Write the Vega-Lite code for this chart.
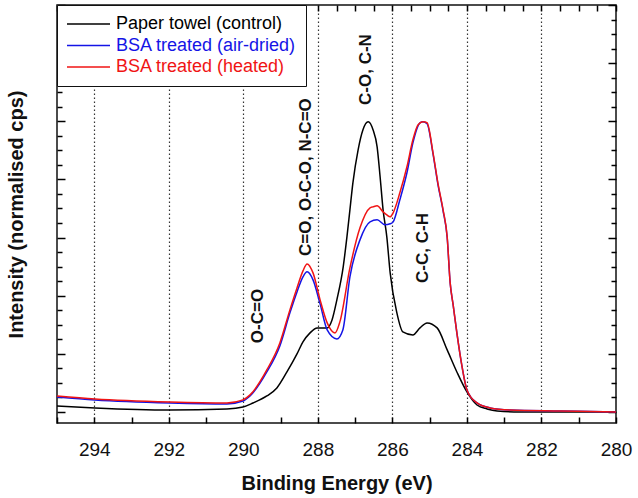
{
  "$schema": "https://vega.github.io/schema/vega-lite/v6.json",
  "width": 559,
  "height": 418,
  "autosize": "none",
  "padding": {"left": 57, "top": 5, "right": 22, "bottom": 75},
  "background": "white",
  "config": {
    "font": "Liberation Sans",
    "view": {"stroke": "#111", "strokeWidth": 1.5},
    "axis": {"domain": false, "tickColor": "#000", "tickWidth": 1.5, "grid": false, "zindex": 1, "ticks": true, "tickOpacity": 1}
  },
  "datasets": {
    "curves": [
      {"series": "Paper towel (control)", "energy": 295.00, "intensity": 0.103},
      {"series": "Paper towel (control)", "energy": 293.98, "intensity": 0.069},
      {"series": "Paper towel (control)", "energy": 291.97, "intensity": 0.034},
      {"series": "Paper towel (control)", "energy": 290.44, "intensity": 0.052},
      {"series": "Paper towel (control)", "energy": 290.01, "intensity": 0.086},
      {"series": "Paper towel (control)", "energy": 289.74, "intensity": 0.155},
      {"series": "Paper towel (control)", "energy": 289.37, "intensity": 0.275},
      {"series": "Paper towel (control)", "energy": 289.10, "intensity": 0.413},
      {"series": "Paper towel (control)", "energy": 288.83, "intensity": 0.688},
      {"series": "Paper towel (control)", "energy": 288.56, "intensity": 0.998},
      {"series": "Paper towel (control)", "energy": 288.40, "intensity": 1.205},
      {"series": "Paper towel (control)", "energy": 288.21, "intensity": 1.360},
      {"series": "Paper towel (control)", "energy": 288.02, "intensity": 1.446},
      {"series": "Paper towel (control)", "energy": 287.75, "intensity": 1.446},
      {"series": "Paper towel (control)", "energy": 287.62, "intensity": 1.583},
      {"series": "Paper towel (control)", "energy": 287.49, "intensity": 1.928},
      {"series": "Paper towel (control)", "energy": 287.32, "intensity": 2.496},
      {"series": "Paper towel (control)", "energy": 287.22, "intensity": 3.012},
      {"series": "Paper towel (control)", "energy": 287.14, "intensity": 3.477},
      {"series": "Paper towel (control)", "energy": 287.06, "intensity": 3.941},
      {"series": "Paper towel (control)", "energy": 286.92, "intensity": 4.509},
      {"series": "Paper towel (control)", "energy": 286.79, "intensity": 4.854},
      {"series": "Paper towel (control)", "energy": 286.65, "intensity": 4.991},
      {"series": "Paper towel (control)", "energy": 286.52, "intensity": 4.854},
      {"series": "Paper towel (control)", "energy": 286.41, "intensity": 4.561},
      {"series": "Paper towel (control)", "energy": 286.33, "intensity": 4.045},
      {"series": "Paper towel (control)", "energy": 286.25, "intensity": 3.477},
      {"series": "Paper towel (control)", "energy": 286.15, "intensity": 3.012},
      {"series": "Paper towel (control)", "energy": 286.06, "intensity": 2.392},
      {"series": "Paper towel (control)", "energy": 285.88, "intensity": 1.704},
      {"series": "Paper towel (control)", "energy": 285.72, "intensity": 1.377},
      {"series": "Paper towel (control)", "energy": 285.45, "intensity": 1.325},
      {"series": "Paper towel (control)", "energy": 285.26, "intensity": 1.446},
      {"series": "Paper towel (control)", "energy": 285.07, "intensity": 1.532},
      {"series": "Paper towel (control)", "energy": 284.80, "intensity": 1.446},
      {"series": "Paper towel (control)", "energy": 284.53, "intensity": 1.067},
      {"series": "Paper towel (control)", "energy": 284.27, "intensity": 0.688},
      {"series": "Paper towel (control)", "energy": 284.00, "intensity": 0.344},
      {"series": "Paper towel (control)", "energy": 283.73, "intensity": 0.120},
      {"series": "Paper towel (control)", "energy": 283.46, "intensity": 0.052},
      {"series": "Paper towel (control)", "energy": 283.19, "intensity": 0.017},
      {"series": "Paper towel (control)", "energy": 282.58, "intensity": 0.0},
      {"series": "Paper towel (control)", "energy": 281.50, "intensity": 0.0},
      {"series": "Paper towel (control)", "energy": 280.00, "intensity": 0.0},

      {"series": "BSA treated (air-dried)", "energy": 295.00, "intensity": 0.258},
      {"series": "BSA treated (air-dried)", "energy": 293.98, "intensity": 0.207},
      {"series": "BSA treated (air-dried)", "energy": 291.97, "intensity": 0.155},
      {"series": "BSA treated (air-dried)", "energy": 290.44, "intensity": 0.138},
      {"series": "BSA treated (air-dried)", "energy": 290.01, "intensity": 0.189},
      {"series": "BSA treated (air-dried)", "energy": 289.82, "intensity": 0.275},
      {"series": "BSA treated (air-dried)", "energy": 289.37, "intensity": 0.688},
      {"series": "BSA treated (air-dried)", "energy": 289.02, "intensity": 1.136},
      {"series": "BSA treated (air-dried)", "energy": 288.75, "intensity": 1.704},
      {"series": "BSA treated (air-dried)", "energy": 288.56, "intensity": 2.065},
      {"series": "BSA treated (air-dried)", "energy": 288.40, "intensity": 2.324},
      {"series": "BSA treated (air-dried)", "energy": 288.29, "intensity": 2.410},
      {"series": "BSA treated (air-dried)", "energy": 288.13, "intensity": 2.272},
      {"series": "BSA treated (air-dried)", "energy": 287.94, "intensity": 1.859},
      {"series": "BSA treated (air-dried)", "energy": 287.75, "intensity": 1.411},
      {"series": "BSA treated (air-dried)", "energy": 287.49, "intensity": 1.256},
      {"series": "BSA treated (air-dried)", "energy": 287.33, "intensity": 1.411},
      {"series": "BSA treated (air-dried)", "energy": 287.14, "intensity": 2.324},
      {"series": "BSA treated (air-dried)", "energy": 286.87, "intensity": 2.960},
      {"series": "BSA treated (air-dried)", "energy": 286.60, "intensity": 3.270},
      {"series": "BSA treated (air-dried)", "energy": 286.41, "intensity": 3.305},
      {"series": "BSA treated (air-dried)", "energy": 286.20, "intensity": 3.219},
      {"series": "BSA treated (air-dried)", "energy": 286.06, "intensity": 3.236},
      {"series": "BSA treated (air-dried)", "energy": 285.98, "intensity": 3.270},
      {"series": "BSA treated (air-dried)", "energy": 285.80, "intensity": 3.649},
      {"series": "BSA treated (air-dried)", "energy": 285.61, "intensity": 4.114},
      {"series": "BSA treated (air-dried)", "energy": 285.45, "intensity": 4.630},
      {"series": "BSA treated (air-dried)", "energy": 285.26, "intensity": 4.974},
      {"series": "BSA treated (air-dried)", "energy": 285.18, "intensity": 4.991},
      {"series": "BSA treated (air-dried)", "energy": 285.07, "intensity": 4.957},
      {"series": "BSA treated (air-dried)", "energy": 284.91, "intensity": 4.440},
      {"series": "BSA treated (air-dried)", "energy": 284.78, "intensity": 3.920},
      {"series": "BSA treated (air-dried)", "energy": 284.64, "intensity": 3.460},
      {"series": "BSA treated (air-dried)", "energy": 284.53, "intensity": 3.000},
      {"series": "BSA treated (air-dried)", "energy": 284.45, "intensity": 2.220},
      {"series": "BSA treated (air-dried)", "energy": 284.37, "intensity": 1.842},
      {"series": "BSA treated (air-dried)", "energy": 284.27, "intensity": 1.360},
      {"series": "BSA treated (air-dried)", "energy": 284.13, "intensity": 0.775},
      {"series": "BSA treated (air-dried)", "energy": 284.00, "intensity": 0.379},
      {"series": "BSA treated (air-dried)", "energy": 283.73, "intensity": 0.155},
      {"series": "BSA treated (air-dried)", "energy": 283.38, "intensity": 0.069},
      {"series": "BSA treated (air-dried)", "energy": 282.84, "intensity": 0.034},
      {"series": "BSA treated (air-dried)", "energy": 281.50, "intensity": 0.017},
      {"series": "BSA treated (air-dried)", "energy": 280.00, "intensity": 0.0},

      {"series": "BSA treated (heated)", "energy": 295.00, "intensity": 0.275},
      {"series": "BSA treated (heated)", "energy": 293.98, "intensity": 0.224},
      {"series": "BSA treated (heated)", "energy": 291.97, "intensity": 0.172},
      {"series": "BSA treated (heated)", "energy": 290.44, "intensity": 0.155},
      {"series": "BSA treated (heated)", "energy": 290.01, "intensity": 0.207},
      {"series": "BSA treated (heated)", "energy": 289.82, "intensity": 0.293},
      {"series": "BSA treated (heated)", "energy": 289.37, "intensity": 0.723},
      {"series": "BSA treated (heated)", "energy": 289.02, "intensity": 1.188},
      {"series": "BSA treated (heated)", "energy": 288.75, "intensity": 1.756},
      {"series": "BSA treated (heated)", "energy": 288.56, "intensity": 2.134},
      {"series": "BSA treated (heated)", "energy": 288.40, "intensity": 2.427},
      {"series": "BSA treated (heated)", "energy": 288.29, "intensity": 2.547},
      {"series": "BSA treated (heated)", "energy": 288.13, "intensity": 2.392},
      {"series": "BSA treated (heated)", "energy": 287.94, "intensity": 1.928},
      {"series": "BSA treated (heated)", "energy": 287.75, "intensity": 1.532},
      {"series": "BSA treated (heated)", "energy": 287.54, "intensity": 1.360},
      {"series": "BSA treated (heated)", "energy": 287.41, "intensity": 1.549},
      {"series": "BSA treated (heated)", "energy": 287.14, "intensity": 2.478},
      {"series": "BSA treated (heated)", "energy": 286.87, "intensity": 3.167},
      {"series": "BSA treated (heated)", "energy": 286.60, "intensity": 3.511},
      {"series": "BSA treated (heated)", "energy": 286.52, "intensity": 3.528},
      {"series": "BSA treated (heated)", "energy": 286.41, "intensity": 3.546},
      {"series": "BSA treated (heated)", "energy": 286.25, "intensity": 3.442},
      {"series": "BSA treated (heated)", "energy": 286.15, "intensity": 3.390},
      {"series": "BSA treated (heated)", "energy": 286.06, "intensity": 3.356},
      {"series": "BSA treated (heated)", "energy": 285.98, "intensity": 3.425},
      {"series": "BSA treated (heated)", "energy": 285.80, "intensity": 3.769},
      {"series": "BSA treated (heated)", "energy": 285.61, "intensity": 4.217},
      {"series": "BSA treated (heated)", "energy": 285.45, "intensity": 4.682},
      {"series": "BSA treated (heated)", "energy": 285.31, "intensity": 4.940},
      {"series": "BSA treated (heated)", "energy": 285.18, "intensity": 4.991},
      {"series": "BSA treated (heated)", "energy": 285.07, "intensity": 4.974},
      {"series": "BSA treated (heated)", "energy": 284.91, "intensity": 4.458},
      {"series": "BSA treated (heated)", "energy": 284.78, "intensity": 3.941},
      {"series": "BSA treated (heated)", "energy": 284.64, "intensity": 3.477},
      {"series": "BSA treated (heated)", "energy": 284.53, "intensity": 3.012},
      {"series": "BSA treated (heated)", "energy": 284.45, "intensity": 2.220},
      {"series": "BSA treated (heated)", "energy": 284.37, "intensity": 1.842},
      {"series": "BSA treated (heated)", "energy": 284.27, "intensity": 1.360},
      {"series": "BSA treated (heated)", "energy": 284.13, "intensity": 0.775},
      {"series": "BSA treated (heated)", "energy": 284.00, "intensity": 0.379},
      {"series": "BSA treated (heated)", "energy": 283.73, "intensity": 0.155},
      {"series": "BSA treated (heated)", "energy": 283.38, "intensity": 0.069},
      {"series": "BSA treated (heated)", "energy": 282.84, "intensity": 0.034},
      {"series": "BSA treated (heated)", "energy": 281.50, "intensity": 0.017},
      {"series": "BSA treated (heated)", "energy": 280.00, "intensity": 0.0}
    ],
    "labels": [
      {"label": "O-C=O", "energy": 289.61, "intensity": 1.65},
      {"label": "C=O, O-C-O, N-C=O", "energy": 288.32, "intensity": 4.04},
      {"label": "C-O, C-N", "energy": 286.71, "intensity": 5.89},
      {"label": "C-C, C-H", "energy": 285.18, "intensity": 2.82}
    ]
  },
  "layer": [
    {
      "data": {"name": "curves"},
      "mark": {"type": "line", "strokeWidth": 1.5, "interpolate": "monotone"},
      "encoding": {
        "x": {
          "field": "energy", "type": "quantitative",
          "scale": {"domain": [280, 295], "reverse": true, "nice": false, "zero": false},
          "axis": {
            "orient": "bottom",
            "values": [280, 280.5, 281, 281.5, 282, 282.5, 283, 283.5, 284, 284.5, 285, 285.5, 286, 286.5, 287, 287.5, 288, 288.5, 289, 289.5, 290, 290.5, 291, 291.5, 292, 292.5, 293, 293.5, 294, 294.5, 295],
            "format": "d",
            "labelExpr": "datum.value % 2 === 0 ? datum.label : ''",
            "labelFontSize": 19, "labelColor": "#111", "labelFlush": false, "labelOverlap": false,
            "ticks": true, "tickSize": -6, "tickColor": "#000", "tickWidth": 1.5,
            "labelPadding": 23.5,
            "grid": true, "gridColor": "#333", "gridWidth": 1.2, "gridDash": [1.5, 2.5],
            "gridOpacity": {"condition": {"test": "datum.value % 2 === 0 && datum.value > 280", "value": 1}, "value": 0},
            "title": "Binding Energy (eV)", "titleFontSize": 20, "titleFontWeight": "bold", "titleColor": "#111", "titlePadding": 14
          }
        },
        "y": {
          "field": "intensity", "type": "quantitative",
          "scale": {"domain": [-0.19, 7.0], "nice": false, "zero": false},
          "axis": {
            "orient": "left",
            "values": [0, 0.25, 0.5, 0.75, 1, 1.25, 1.5, 1.75, 2, 2.25, 2.5, 2.75, 3, 3.25, 3.5, 3.75, 4, 4.25, 4.5, 4.75, 5, 5.25, 5.5, 5.75, 6, 6.25, 6.5, 6.75, 7],
            "labels": false,
            "tickSize": {"condition": {"test": "datum.value % 1 === 0", "value": -8}, "value": -5},
            "title": "Intensity (normalised cps)", "titleFontSize": 20, "titleFontWeight": "bold", "titleColor": "#111", "titlePadding": 30
          }
        },
        "color": {
          "field": "series", "type": "nominal",
          "scale": {
            "domain": ["Paper towel (control)", "BSA treated (air-dried)", "BSA treated (heated)"],
            "range": ["#000000", "#1414e6", "#f01414"]
          },
          "legend": {
            "orient": "top-left", "offset": 0, "title": null,
            "padding": 9, "strokeColor": "#111", "fillColor": "white",
            "symbolType": "stroke", "symbolSize": 1849, "symbolStrokeWidth": 1.5,
            "labelFontSize": 18, "labelOffset": 5, "labelLimit": 300,
            "clipHeight": 20, "rowPadding": 1.5,
            "encode": {"labels": {"update": {"fill": {"scale": "color", "field": "value"}}}}
          }
        },
        "order": {"field": "energy", "type": "quantitative"}
      }
    },
    {
      "data": {"name": "labels"},
      "mark": {"type": "text", "angle": 270, "fontSize": 17, "fontWeight": "bold", "align": "center", "baseline": "middle", "color": "#111"},
      "encoding": {
        "x": {
          "field": "energy", "type": "quantitative",
          "axis": {
            "orient": "top",
            "values": [280, 280.5, 281, 281.5, 282, 282.5, 283, 283.5, 284, 284.5, 285, 285.5, 286, 286.5, 287, 287.5, 288, 288.5, 289, 289.5, 290, 290.5, 291, 291.5, 292, 292.5, 293, 293.5, 294, 294.5, 295],
            "labels": false,
            "ticks": true, "tickSize": -6, "tickColor": "#000", "tickWidth": 1.5,
            "title": null
          }
        },
        "y": {
          "field": "intensity", "type": "quantitative",
          "axis": {
            "orient": "right",
            "values": [0, 0.25, 0.5, 0.75, 1, 1.25, 1.5, 1.75, 2, 2.25, 2.5, 2.75, 3, 3.25, 3.5, 3.75, 4, 4.25, 4.5, 4.75, 5, 5.25, 5.5, 5.75, 6, 6.25, 6.5, 6.75, 7],
            "labels": false,
            "tickSize": {"condition": {"test": "datum.value % 1 === 0", "value": -8}, "value": -5},
            "title": null
          }
        },
        "text": {"field": "label", "type": "nominal"}
      }
    }
  ],
  "resolve": {"axis": {"x": "independent", "y": "independent"}}
}
